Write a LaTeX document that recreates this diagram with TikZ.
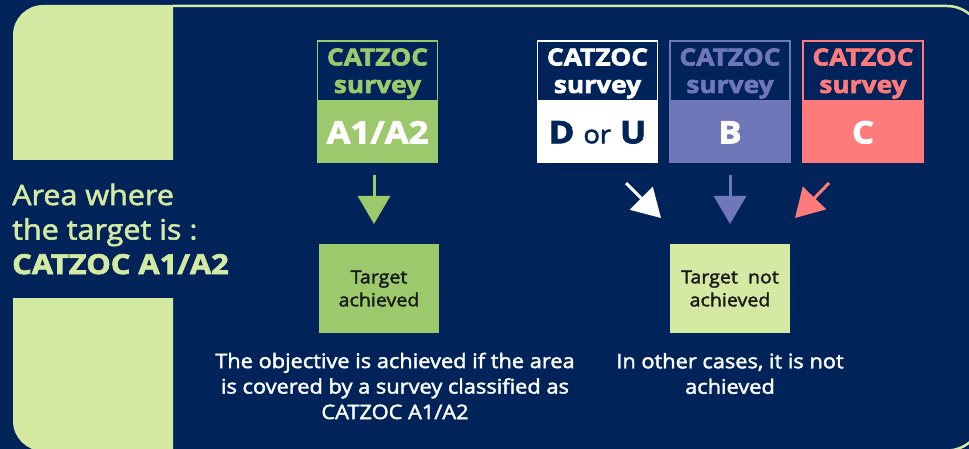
\documentclass[tikz,border=0pt]{standalone}
\usepackage{fontspec}
\setmainfont{Open Sans}
\newfontfamily\rfont{Open Sans}[FakeStretch=1.09, FakeBold=2]
\newfontfamily\hfont{Open Sans}[FakeStretch=1.12, FakeBold=2.6]
\usetikzlibrary{arrows.meta}
\definecolor{navy}{HTML}{00245A}
\definecolor{lgreen}{HTML}{D4EAA3}
\definecolor{mgreen}{HTML}{9BC96B}
\definecolor{bblue}{HTML}{7077B8}
\definecolor{pink}{HTML}{FF7B7B}
\tikzset{
  topbox/.style={draw=#1, line width=1.3pt, fill=navy, minimum width=120pt, minimum height=60pt, inner sep=0pt},
  toptext/.style={text=#1, inner sep=0pt, align=center, font=\hfont\bfseries\fontsize{23.5}{27.5}\selectfont},
  botbox/.style={fill=#1, minimum width=121.3pt, minimum height=61pt, inner sep=0pt, align=center, font=\hfont\bfseries\fontsize{31}{34}\selectfont},
  tbox/.style={fill=#1, minimum width=120pt, minimum height=89pt, inner sep=0pt, align=center, text=black!90, font=\rfont\fontsize{18}{23}\selectfont},
  downarrow/.style={draw=#1, line width=3pt, -{Triangle[width=32pt,length=28pt]}},
  note/.style={text=white, align=center, inner sep=0pt, font=\rfont\fontsize{20}{25.5}\selectfont}
}
\begin{document}
\begin{tikzpicture}[x=1pt,y=-1pt]
\useasboundingbox (0,0) rectangle (969,449);
\fill[navy] (0,0) rectangle (969,449);
% outer frame
\begin{scope}
\clip (0,0) rectangle (969,449);
\draw[lgreen, line width=2.5pt, rounded corners=35pt] (173,6) -- (982,6) -- (982,450.5) -- (173,450.5);
\begin{scope}
\clip (13,5) rectangle (173,160);
\fill[lgreen, rounded corners=30pt] (13,5) rectangle (260,300);
\end{scope}
\begin{scope}
\clip (13,298) rectangle (173,449);
\fill[lgreen, rounded corners=30pt] (13,150) rectangle (260,451);
\end{scope}
\end{scope}
% left text
\node[anchor=west, align=left, text=lgreen, inner sep=0pt, font=\rfont\fontsize{28}{34.5}\selectfont] (area) at (12,229) {Area where\\the target is :\\{\hfont\bfseries\fontsize{27.5}{34.5}\selectfont CATZOC A1/A2}};
% survey boxes
\node[topbox=mgreen] (a1top) at (377.5,71) {};
\node[toptext=mgreen] (a1lab) at (377.5,73.5) {CATZOC\\survey};
\node[botbox=mgreen, text=white, anchor=north] (a1bot) at (a1top.south) {A1/A2};
\node[topbox=white] (dtop) at (597.5,71) {};
\node[toptext=white] (dlab) at (597.5,73.5) {CATZOC\\survey};
\node[botbox=white, text=navy, anchor=north] (dbot) at (dtop.south) {D {\rfont\mdseries\fontsize{25}{30}\selectfont or} U};
\node[topbox=bblue] (btop) at (730,71) {};
\node[toptext=bblue] (blab) at (730,73.5) {CATZOC\\survey};
\node[botbox=bblue, text=white, anchor=north] (bbot) at (btop.south) {B};
\node[topbox=pink] (ctop) at (863,71) {};
\node[toptext=pink] (clab) at (863,73.5) {CATZOC\\survey};
\node[botbox=pink, text=white, anchor=north] (cbot) at (ctop.south) {C};
% target boxes
\node[tbox=mgreen] (ta) at (379,288.5) {Target\\achieved};
\node[tbox=lgreen] (tn) at (730,288.5) {Target\ \ not\\achieved};
% arrows
\coordinate (g1) at (374,175); \coordinate (g2) at (374,224);
\draw[downarrow=mgreen] (g1) -- (g2);
\coordinate (b1) at (730,175); \coordinate (b2) at (730,224);
\draw[downarrow=bblue] (b1) -- (b2);
\coordinate (w1) at (626,183); \coordinate (w2) at (661,218);
\draw[downarrow=white] (w1) -- (w2);
\coordinate (p1) at (829,183); \coordinate (p2) at (795,218);
\draw[downarrow=pink] (p1) -- (p2);
% notes
\node[note] (obj) at (395,386) {The objective is achieved if the area\\is covered by a survey classified as\\CATZOC A1/A2};
\node[note] (oth) at (730,373.5) {In other cases, it is not\\achieved};
\end{tikzpicture}
\end{document}
